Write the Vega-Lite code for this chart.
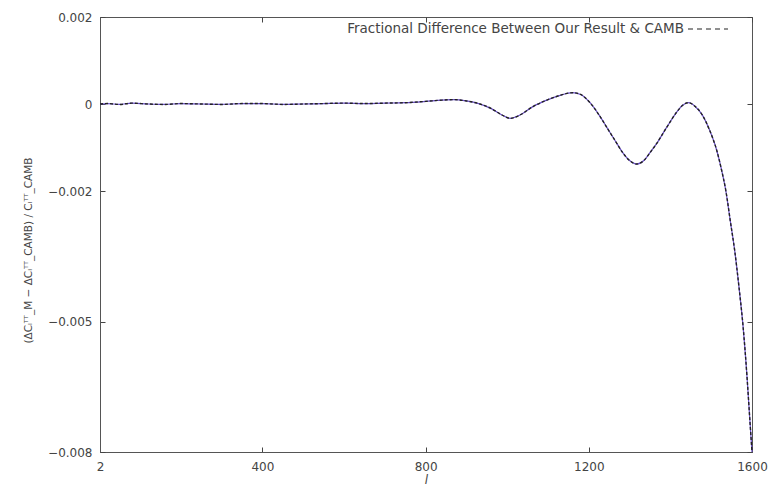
{
  "$schema": "https://vega.github.io/schema/vega-lite/v6.json",
  "width": 652,
  "height": 435,
  "autosize": {"type": "none"},
  "padding": {"left": 100, "top": 17, "right": 17, "bottom": 39},
  "background": "white",
  "config": {
    "view": {"stroke": "#555", "strokeWidth": 1},
    "font": "DejaVu Sans",
    "axis": {
      "grid": false,
      "domainColor": "#555",
      "labelColor": "#444",
      "titleColor": "#444",
      "labelFontSize": 12,
      "titleFontSize": 10.5,
      "titleFontWeight": "normal",
      "labelFont": "DejaVu Sans",
      "titleFont": "DejaVu Sans"
    }
  },
  "data": {
    "values": [
      {"l": 2, "d": 0, "s": "Fractional Difference Between Our Result & CAMB"},
      {"l": 20, "d": 0.00001, "s": "Fractional Difference Between Our Result & CAMB"},
      {"l": 50, "d": -0.00001, "s": "Fractional Difference Between Our Result & CAMB"},
      {"l": 80, "d": 0.00002, "s": "Fractional Difference Between Our Result & CAMB"},
      {"l": 120, "d": 0, "s": "Fractional Difference Between Our Result & CAMB"},
      {"l": 160, "d": -0.00001, "s": "Fractional Difference Between Our Result & CAMB"},
      {"l": 200, "d": 0.00001, "s": "Fractional Difference Between Our Result & CAMB"},
      {"l": 250, "d": 0, "s": "Fractional Difference Between Our Result & CAMB"},
      {"l": 300, "d": -0.00001, "s": "Fractional Difference Between Our Result & CAMB"},
      {"l": 350, "d": 0.00001, "s": "Fractional Difference Between Our Result & CAMB"},
      {"l": 400, "d": 0.00001, "s": "Fractional Difference Between Our Result & CAMB"},
      {"l": 450, "d": -0.00001, "s": "Fractional Difference Between Our Result & CAMB"},
      {"l": 500, "d": 0, "s": "Fractional Difference Between Our Result & CAMB"},
      {"l": 550, "d": 0.00001, "s": "Fractional Difference Between Our Result & CAMB"},
      {"l": 600, "d": 0.00002, "s": "Fractional Difference Between Our Result & CAMB"},
      {"l": 650, "d": 0.00001, "s": "Fractional Difference Between Our Result & CAMB"},
      {"l": 700, "d": 0.00002, "s": "Fractional Difference Between Our Result & CAMB"},
      {"l": 750, "d": 0.00003, "s": "Fractional Difference Between Our Result & CAMB"},
      {"l": 800, "d": 0.00006, "s": "Fractional Difference Between Our Result & CAMB"},
      {"l": 840, "d": 0.00009, "s": "Fractional Difference Between Our Result & CAMB"},
      {"l": 870, "d": 0.0001, "s": "Fractional Difference Between Our Result & CAMB"},
      {"l": 900, "d": 0.00007, "s": "Fractional Difference Between Our Result & CAMB"},
      {"l": 930, "d": 0.00001, "s": "Fractional Difference Between Our Result & CAMB"},
      {"l": 960, "d": -0.0001, "s": "Fractional Difference Between Our Result & CAMB"},
      {"l": 985, "d": -0.00024, "s": "Fractional Difference Between Our Result & CAMB"},
      {"l": 1007, "d": -0.00033, "s": "Fractional Difference Between Our Result & CAMB"},
      {"l": 1030, "d": -0.00026, "s": "Fractional Difference Between Our Result & CAMB"},
      {"l": 1063, "d": -0.00006, "s": "Fractional Difference Between Our Result & CAMB"},
      {"l": 1100, "d": 0.0001, "s": "Fractional Difference Between Our Result & CAMB"},
      {"l": 1130, "d": 0.0002, "s": "Fractional Difference Between Our Result & CAMB"},
      {"l": 1160, "d": 0.00026, "s": "Fractional Difference Between Our Result & CAMB"},
      {"l": 1180, "d": 0.00022, "s": "Fractional Difference Between Our Result & CAMB"},
      {"l": 1203, "d": 0.00003, "s": "Fractional Difference Between Our Result & CAMB"},
      {"l": 1225, "d": -0.00025, "s": "Fractional Difference Between Our Result & CAMB"},
      {"l": 1245, "d": -0.00055, "s": "Fractional Difference Between Our Result & CAMB"},
      {"l": 1265, "d": -0.00085, "s": "Fractional Difference Between Our Result & CAMB"},
      {"l": 1284, "d": -0.00113, "s": "Fractional Difference Between Our Result & CAMB"},
      {"l": 1300, "d": -0.0013, "s": "Fractional Difference Between Our Result & CAMB"},
      {"l": 1318, "d": -0.00138, "s": "Fractional Difference Between Our Result & CAMB"},
      {"l": 1335, "d": -0.0013, "s": "Fractional Difference Between Our Result & CAMB"},
      {"l": 1350, "d": -0.00112, "s": "Fractional Difference Between Our Result & CAMB"},
      {"l": 1367, "d": -0.0009, "s": "Fractional Difference Between Our Result & CAMB"},
      {"l": 1390, "d": -0.00055, "s": "Fractional Difference Between Our Result & CAMB"},
      {"l": 1416, "d": -0.00018, "s": "Fractional Difference Between Our Result & CAMB"},
      {"l": 1430, "d": -0.00003, "s": "Fractional Difference Between Our Result & CAMB"},
      {"l": 1445, "d": 0.00003, "s": "Fractional Difference Between Our Result & CAMB"},
      {"l": 1460, "d": -0.00005, "s": "Fractional Difference Between Our Result & CAMB"},
      {"l": 1478, "d": -0.00025, "s": "Fractional Difference Between Our Result & CAMB"},
      {"l": 1496, "d": -0.0006, "s": "Fractional Difference Between Our Result & CAMB"},
      {"l": 1514, "d": -0.00108, "s": "Fractional Difference Between Our Result & CAMB"},
      {"l": 1525, "d": -0.0015, "s": "Fractional Difference Between Our Result & CAMB"},
      {"l": 1536, "d": -0.002, "s": "Fractional Difference Between Our Result & CAMB"},
      {"l": 1547, "d": -0.0027, "s": "Fractional Difference Between Our Result & CAMB"},
      {"l": 1558, "d": -0.0034, "s": "Fractional Difference Between Our Result & CAMB"},
      {"l": 1568, "d": -0.0042, "s": "Fractional Difference Between Our Result & CAMB"},
      {"l": 1578, "d": -0.0051, "s": "Fractional Difference Between Our Result & CAMB"},
      {"l": 1588, "d": -0.0063, "s": "Fractional Difference Between Our Result & CAMB"},
      {"l": 1595, "d": -0.0073, "s": "Fractional Difference Between Our Result & CAMB"},
      {"l": 1600, "d": -0.008, "s": "Fractional Difference Between Our Result & CAMB"}
    ]
  },
  "layer": [
    {
      "mark": {"type": "line", "color": "#6a4fc8", "strokeWidth": 1.2, "interpolate": "monotone"},
      "encoding": {
        "x": {"field": "l", "type": "quantitative", "scale": {"domain": [2, 1600], "nice": false, "zero": false},
          "axis": {"orient": "top", "labels": false, "title": null, "values": [2, 400, 800, 1200, 1600], "ticks": true, "tickSize": -5, "tickColor": "#444", "tickWidth": 1, "domain": false}},
        "y": {"field": "d", "type": "quantitative", "scale": {"domain": [-0.008, 0.002], "nice": false, "zero": false},
          "axis": {"orient": "right", "labels": false, "title": null, "values": [0.002, 0, -0.002, -0.005, -0.008], "ticks": true, "tickSize": -5, "tickColor": "#444", "tickWidth": 1, "domain": false}}
      }
    },
    {
      "mark": {"type": "line", "color": "#222", "strokeWidth": 1.4, "strokeDash": [3, 2], "interpolate": "monotone"},
      "encoding": {
        "x": {"field": "l", "type": "quantitative",
          "axis": {"orient": "bottom", "title": "l", "titleFontSize": 12, "titleFontStyle": "italic", "titlePadding": 2, "values": [2, 400, 800, 1200, 1600], "format": "d", "ticks": true, "tickSize": -5, "tickColor": "#444", "tickWidth": 1, "labelPadding": 14, "labelFlush": false}},
        "y": {"field": "d", "type": "quantitative",
          "axis": {"orient": "left", "title": "(ΔCₗᵀᵀ_M − ΔCₗᵀᵀ_CAMB) / Cₗᵀᵀ_CAMB", "values": [0.002, 0, -0.002, -0.005, -0.008], "labelExpr": "datum.value == 0 ? '0' : format(datum.value, '.3f')", "ticks": true, "tickSize": -5, "tickColor": "#444", "tickWidth": 1, "labelPadding": 13, "titlePadding": 14, "titleY": 233}},
        "color": {"field": "s", "type": "nominal", "scale": {"range": ["#222"]},
          "legend": {"title": null, "orient": "none", "legendX": 587, "legendY": -9, "padding": 0, "symbolType": "stroke", "symbolStrokeWidth": 1.2, "symbolDash": [5, 4], "symbolStrokeColor": "#666", "symbolSize": 1600, "labelFontSize": 13.5, "labelFont": "DejaVu Sans", "labelColor": "#444", "labelLimit": 0, "labelAlign": "right", "labelOffset": -45}}
      }
    }
  ],
  "resolve": {"axis": {"x": "independent", "y": "independent"}}
}
